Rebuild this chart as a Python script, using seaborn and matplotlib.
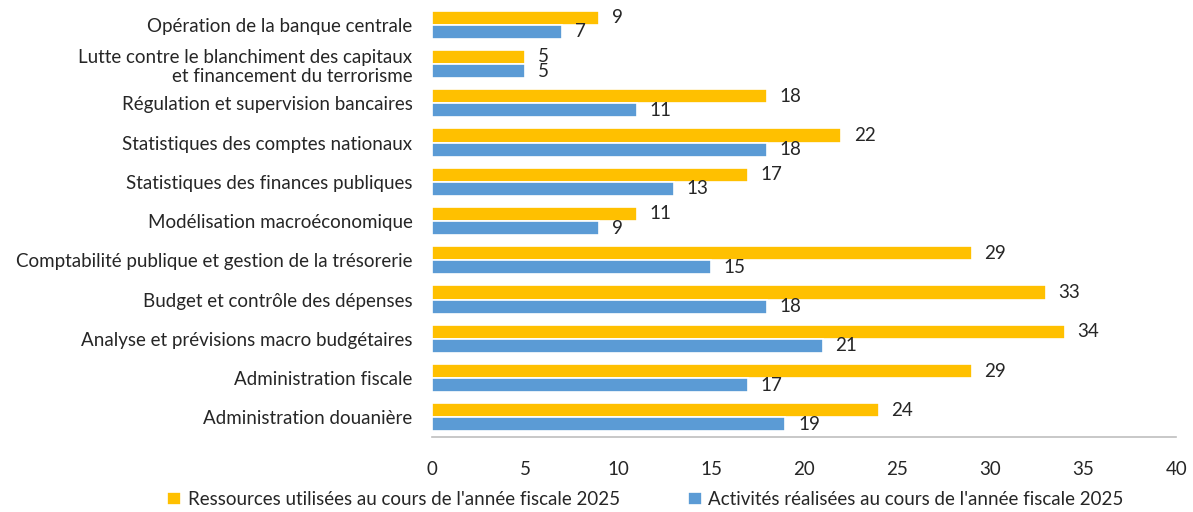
import seaborn as sns
import matplotlib.pyplot as plt
import pandas as pd

categories = [
    "Opération de la banque centrale",
    "Lutte contre le blanchiment des capitaux\net financement du terrorisme",
    "Régulation et supervision bancaires",
    "Statistiques des comptes nationaux",
    "Statistiques des finances publiques",
    "Modélisation macroéconomique",
    "Comptabilité publique et gestion de la trésorerie",
    "Budget et contrôle des dépenses",
    "Analyse et prévisions macro budgétaires",
    "Administration fiscale",
    "Administration douanière",
]
ressources = [9, 5, 18, 22, 17, 11, 29, 33, 34, 29, 24]
activites = [7, 5, 11, 18, 13, 9, 15, 18, 21, 17, 19]
series = ["Ressources utilisées au cours de l'année fiscale 2025",
          "Activités réalisées au cours de l'année fiscale 2025"]
colors = ["#FFC000", "#5B9BD5"]

df = pd.DataFrame({
    "cat": categories * 2,
    "val": ressources + activites,
    "serie": [series[0]] * len(categories) + [series[1]] * len(categories),
})

sns.set_theme(style="white")
plt.rcParams['font.family'] = ['Lato', 'DejaVu Sans']

fig = plt.figure(figsize=(11.93, 5.12), dpi=100)
ax = fig.add_axes([0.362, 0.1465, 0.624, 0.8435])

sns.barplot(data=df, y="cat", x="val", hue="serie", palette=colors,
            saturation=1, orient="h", width=0.72, ax=ax,
            edgecolor="white", linewidth=1.2, legend=True)

for cont in ax.containers:
    ax.bar_label(cont, padding=9, fontsize=13.5, color="#262626")

ax.set_xlim(0, 40)
ax.set_ylim(10.5, -0.5)
ax.set_xticks(range(0, 41, 5))
ax.set_xlabel("")
ax.set_ylabel("")
ax.tick_params(axis="x", labelsize=13.5, colors="#262626", length=0, pad=17)
ax.tick_params(axis="y", labelsize=13.5, colors="#262626", length=0, pad=14)
for lab in ax.get_yticklabels():
    lab.set_horizontalalignment("right")
    lab.set_multialignment("right")
for s in ["top", "right", "left"]:
    ax.spines[s].set_visible(False)
ax.spines["bottom"].set_color("#BFBFBF")
ax.spines["bottom"].set_linewidth(1.2)

handles, labels = ax.get_legend_handles_labels()
ax.get_legend().remove()
fig.legend(handles, labels, loc="lower center", ncol=2, frameon=False,
           fontsize=13.5, handlelength=0.75, handleheight=0.75, handletextpad=0.35,
           columnspacing=3.6, bbox_to_anchor=(0.541, -0.025), labelcolor="#262626")

fig.savefig("out.png", dpi=100)
